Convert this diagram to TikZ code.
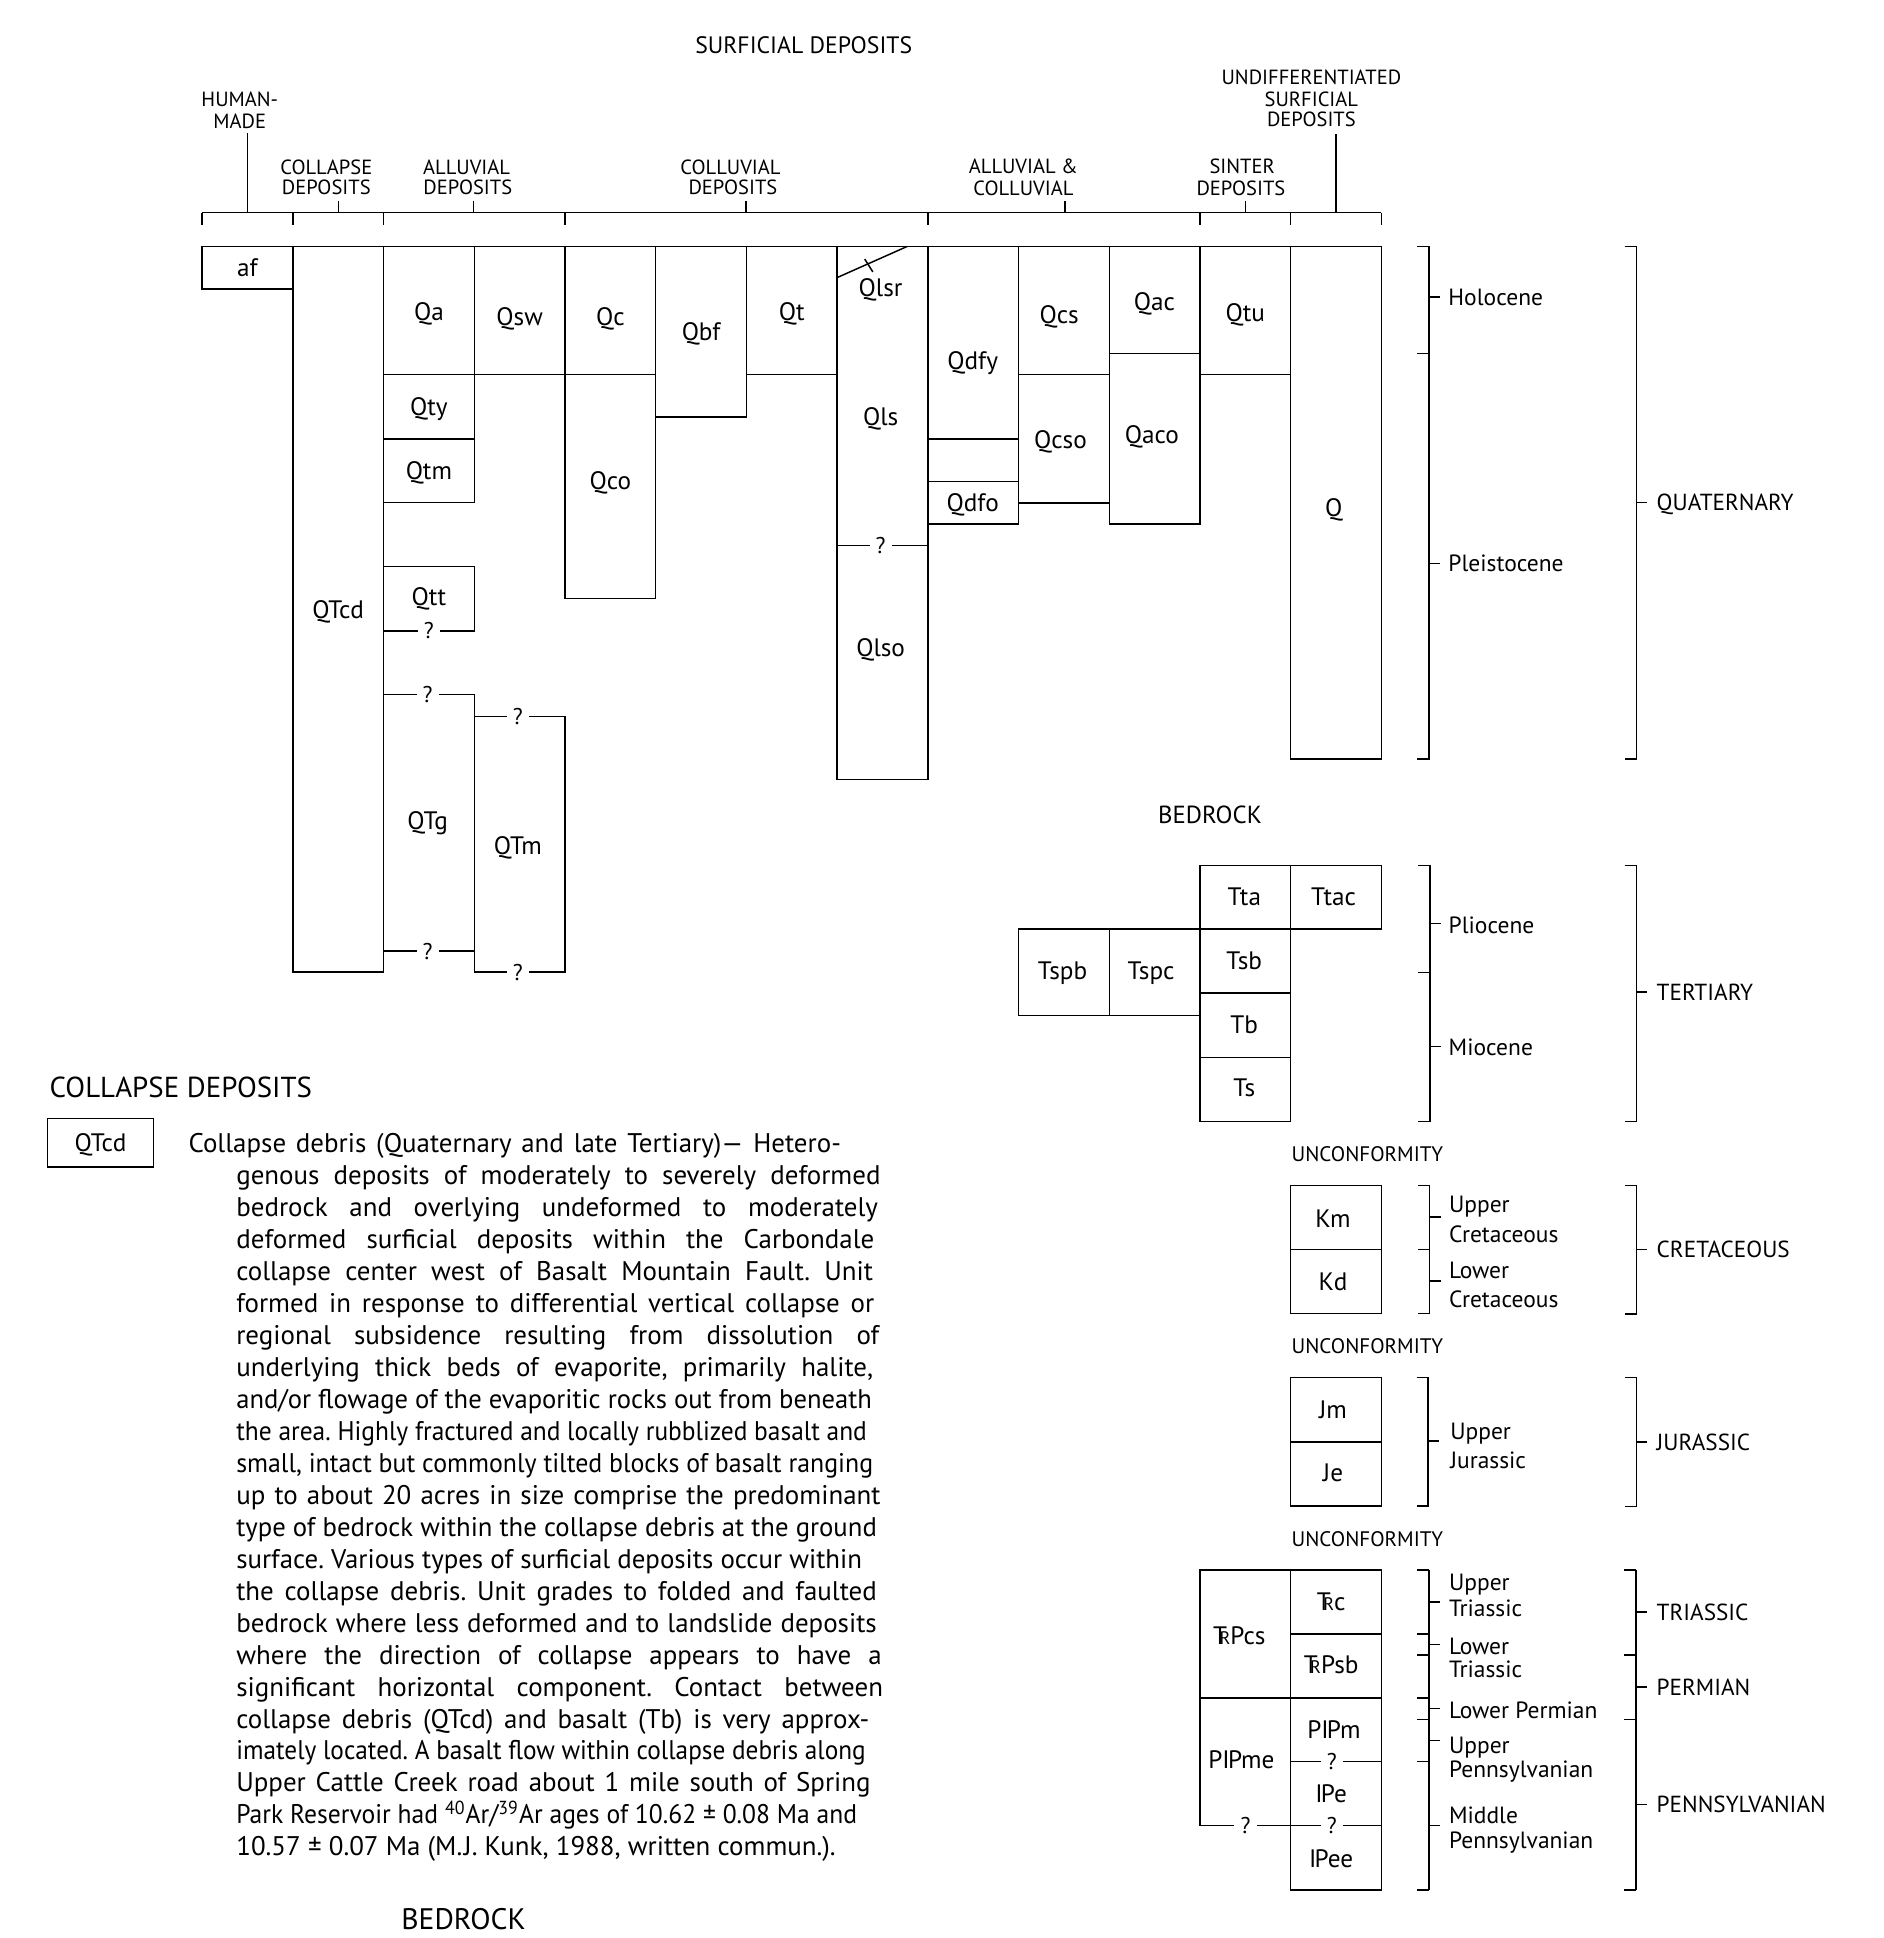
\documentclass[tikz,border=0pt]{standalone}
\usepackage{fontspec}
\setmainfont{PT Sans}
\usepackage{graphicx}
\frenchspacing
\newsavebox\jlbox
\newcommand\jline[2]{\sbox\jlbox{#2}\ifdim\wd\jlbox>#1\relax\resizebox{#1}{\height}{\usebox\jlbox}\else\makebox[#1][s]{#2}\fi}
\newcommand\TRs{T\kern-0.3em\scalebox{0.72}{R}}
\newcommand\PNs{I\kern-0.07em P}
\tikzset{
  ln/.style={line width=0.6pt},
  lbl/.style={inner sep=0pt, text height=7.1pt, text depth=0pt, font=\fontsize{10.2}{12}\selectfont},
  hdr/.style={inner sep=0pt, text height=5.9pt, text depth=0pt, font=\fontsize{8.3}{10}\selectfont},
  ttl/.style={inner sep=0pt, text height=6.8pt, text depth=0pt, font=\fontsize{9.6}{11}\selectfont},
  stg/.style={inner sep=0pt, anchor=west, text height=6.7pt, text depth=0pt, font=\fontsize{9.5}{11}\selectfont},
  per/.style={inner sep=0pt, anchor=west, text height=6.6pt, text depth=0pt, font=\fontsize{9.4}{11}\selectfont},
  unc/.style={inner sep=0pt, anchor=west, text height=6pt, text depth=0pt, font=\fontsize{8.5}{10}\selectfont},
  qm/.style={inner ysep=0.5pt, inner xsep=2.5pt, fill=white, text height=6.5pt, text depth=0pt, font=\fontsize{9.2}{10}\selectfont},
  para/.style={inner sep=0pt, anchor=west, text height=7.6pt, text depth=0pt, font=\fontsize{10.9}{13}\selectfont},
  bigt/.style={inner sep=0pt, text height=8.2pt, text depth=0pt, font=\fontsize{11.7}{13}\selectfont},
}
\newcommand\bx[4]{\draw[ln] (#1,#2) rectangle (#3,#4);}
% bracket: x, top, bottom, tick y
\newcommand\brk[4]{\draw[ln] (#1-9.4,#2) -- (#1,#2) -- (#1,#3) -- (#1-9.4,#3); \draw[ln] (#1,#4) -- (#1+8.8,#4);}
\newcommand\stub[2]{\draw[ln] (#1-9.4,#2) -- (#1,#2);}
\newcommand\tick[2]{\draw[ln] (#1,#2) -- (#1+8.8,#2);}
\begin{document}
\begin{tikzpicture}[x=0.5pt,y=-0.5pt]
\fill[white] (0,0) rectangle (1524,1568);
\useasboundingbox (0,0) rectangle (1524,1568);

% ---------- header ----------
\node[ttl] (surf) at (650.3,36.4) {SURFICIAL DEPOSITS};
\node[hdr] (hm1) at (194,80) {HUMAN-};
\node[hdr] (hm2) at (194,98) {MADE};
\node[hdr] (cd1) at (264,135) {COLLAPSE};
\node[hdr] (cd2) at (264,151.5) {DEPOSITS};
\node[hdr] (ad1) at (377.5,135) {ALLUVIAL};
\node[hdr] (ad2) at (378.5,151.5) {DEPOSITS};
\node[hdr] (cl1) at (591,135) {COLLUVIAL};
\node[hdr] (cl2) at (593,151.5) {DEPOSITS};
\node[hdr] (ac1) at (828,134.5) {ALLUVIAL \&};
\node[hdr] (ac2) at (828,152) {COLLUVIAL};
\node[hdr] (si1) at (1005,134.5) {SINTER};
\node[hdr] (si2) at (1004,152) {DEPOSITS};
\node[hdr] (ud1) at (1061,62.6) {UNDIFFERENTIATED};
\node[hdr] (ud2) at (1061,80) {SURFICIAL};
\node[hdr] (ud3) at (1061,96.5) {DEPOSITS};

\draw[ln] (163.5,172) -- (1117.7,172);
\foreach \x in {163.5,236.9,310.3,457.1,750.7,970.9,1044.3,1117.7} {\draw[ln] (\x,172) -- (\x,182);}
\foreach \x in {274,383.2,603.5,861.5,1007.6} {\draw[ln] (\x,162.7) -- (\x,172);}
\draw[ln] (200.4,108) -- (200.4,172);
\draw[ln] (1081.1,108.5) -- (1081.1,172);

% ---------- surficial units ----------
\bx{163.5}{199.4}{236.9}{233.8}
\node[lbl] (af) at (200.2,217) {af};
\bx{236.9}{199.4}{310.3}{786.4}
\node[lbl] (QTcd) at (273.6,493) {QTcd};
\bx{310.3}{199.4}{383.7}{303.2}
\node[lbl] (Qa) at (347,252) {Qa};
\bx{383.7}{199.4}{457.1}{303.2}
\node[lbl] (Qsw) at (420.4,256) {Qsw};
\bx{457.1}{199.4}{530.5}{303.2}
\node[lbl] (Qc) at (493.8,256) {Qc};
\bx{530.5}{199.4}{603.9}{337.3}
\node[lbl] (Qbf) at (567.2,268) {Qbf};
\bx{603.9}{199.4}{677.3}{303.2}
\node[lbl] (Qt) at (640.6,252) {Qt};
\bx{310.3}{303.2}{383.7}{355}
\node[lbl] (Qty) at (347,329) {Qty};
\bx{310.3}{355}{383.7}{406.7}
\node[lbl] (Qtm) at (347,381) {Qtm};
\bx{457.1}{303.2}{530.5}{484.1}
\node[lbl] (Qco) at (493.8,389) {Qco};
% Qtt
\draw[ln] (310.3,510.4) -- (310.3,458.4) -- (383.7,458.4) -- (383.7,510.4) -- cycle;
\node[lbl] (Qtt) at (347,483) {Qtt};
% QTg and QTm
\draw[ln] (310.3,562) -- (383.7,562) -- (383.7,786.4);
\draw[ln] (310.3,769.4) -- (383.7,769.4);
\draw[ln] (383.7,579.5) -- (457.1,579.5) -- (457.1,786.4) -- (383.7,786.4);
\node[lbl] (QTg) at (346,663.7) {QTg};
\node[lbl] (QTm) at (419,684.4) {QTm};
% Ql column
\bx{677.3}{199.4}{750.7}{630.7}
\draw[ln] (677.3,224.6) -- (734,199.4);
\draw[ln] (699.6,209.6) -- (706.2,220);
\draw[ln] (677.3,441.4) -- (750.7,441.4);
\node[lbl] (Qlsr) at (712.5,233) {Qlsr};
\node[lbl] (Qls) at (712.5,337) {Qls};
\node[lbl] (Qlso) at (712.5,524) {Qlso};
% alluvial and colluvial
\bx{750.7}{199.4}{824.1}{355}
\node[lbl] (Qdfy) at (787,292) {Qdfy};
\bx{750.7}{355}{824.1}{389.6}
\bx{750.7}{389.6}{824.1}{424}
\node[lbl] (Qdfo) at (787,407) {Qdfo};
\bx{824.1}{199.4}{897.5}{303.2}
\node[lbl] (Qcs) at (857,255) {Qcs};
\bx{824.1}{303.2}{897.5}{407}
\node[lbl] (Qcso) at (858,356) {Qcso};
\bx{897.5}{199.4}{970.9}{285.9}
\node[lbl] (Qac) at (934,244) {Qac};
\bx{897.5}{285.9}{970.9}{424}
\node[lbl] (Qaco) at (932,352) {Qaco};
\bx{970.9}{199.4}{1044.3}{303.2}
\node[lbl] (Qtu) at (1007.6,253) {Qtu};
\bx{1044.3}{199.4}{1117.7}{614}
\node[lbl] (Q) at (1079,411) {Q};

% question marks
\node[qm] (q1) at (347,510.4) {?};
\node[qm] (q2) at (346,562) {?};
\node[qm] (q3) at (346,769.4) {?};
\node[qm] (q4) at (419,579.5) {?};
\node[qm] (q5) at (419,786.4) {?};
\node[qm] (q6) at (712.5,441.4) {?};

% quaternary brackets
\brk{1156.2}{199.6}{285.9}{240.4}
\brk{1156.2}{285.9}{614}{455.8}
\node[stg] (holo) at (1171.5,240.4) {Holocene};
\node[stg] (plei) at (1171.5,456) {Pleistocene};
\brk{1323.9}{199.6}{614}{406.5}
\node[per] (quat) at (1340,406.5) {QUATERNARY};

% ---------- bedrock: tertiary ----------
\node[lbl, font=\fontsize{10}{12}\selectfont, text height=7pt] (bedr) at (979,659.6) {BEDROCK};
\bx{970.9}{700.3}{1044.3}{751.8}
\node[lbl] (Tta) at (1006.7,725.7) {Tta};
\bx{1044.3}{700.3}{1117.7}{751.8}
\node[lbl] (Ttac) at (1079,725.7) {Ttac};
\bx{824.1}{751.8}{897.5}{821.7}
\node[lbl] (Tspb) at (859.7,785) {Tspb};
\bx{897.5}{751.8}{970.9}{821.7}
\node[lbl] (Tspc) at (931.3,785) {Tspc};
\bx{970.9}{751.8}{1044.3}{803.4}
\node[lbl] (Tsb) at (1006.7,777) {Tsb};
\bx{970.9}{803.4}{1044.3}{855.4}
\node[lbl] (Tb) at (1006.7,829) {Tb};
\bx{970.9}{855.4}{1044.3}{907.3}
\node[lbl] (Ts) at (1006.7,880.3) {Ts};
\brk{1156.8}{700.3}{786.7}{747.3}
\brk{1156.8}{786.7}{907.3}{846.6}
\node[stg] (plio) at (1171.7,748.5) {Pliocene};
\node[stg] (mioc) at (1171.7,847) {Miocene};
\brk{1323.9}{700.3}{907.3}{802.6}
\node[per] (tert) at (1340,802.6) {TERTIARY};

% ---------- cretaceous ----------
\node[unc] (unc1) at (1044.6,934) {UNCONFORMITY};
\bx{1044.3}{959.3}{1117.7}{1010.9}
\node[lbl] (Km) at (1078.5,986) {Km};
\bx{1044.3}{1010.9}{1117.7}{1062.7}
\node[lbl] (Kd) at (1078.5,1037.3) {Kd};
\brk{1156.7}{959.3}{1010.9}{984.7}
\brk{1156.7}{1010.9}{1062.7}{1036.5}
\node[stg] (uk1) at (1172,974.4) {Upper};
\node[stg] (uk2) at (1172,998.2) {Cretaceous};
\node[stg] (lk1) at (1172,1027.3) {Lower};
\node[stg] (lk2) at (1172,1050.8) {Cretaceous};
\brk{1324}{959.3}{1063}{1010.9}
\node[per] (cret) at (1340,1010.9) {CRETACEOUS};

% ---------- jurassic ----------
\node[unc] (unc2) at (1044.6,1089.4) {UNCONFORMITY};
\bx{1044.3}{1114.7}{1117.7}{1166.8}
\node[lbl] (Jm) at (1078.5,1140.9) {Jm};
\bx{1044.3}{1166.8}{1117.7}{1218.4}
\node[lbl] (Je) at (1078.5,1191.6) {Je};
\brk{1155.5}{1114.7}{1218.4}{1166}
\node[stg] (uj1) at (1173,1158) {Upper};
\node[stg] (uj2) at (1173,1181.6) {Jurassic};
\brk{1324}{1114.7}{1219}{1166.8}
\node[per] (jura) at (1340,1166.8) {JURASSIC};

% ---------- triassic to pennsylvanian ----------
\node[unc] (unc3) at (1044.6,1245) {UNCONFORMITY};
\bx{970.9}{1270.1}{1044.3}{1373.7}
\node[lbl] (TRPcs) at (1002.7,1323.3) {\TRs Pcs};
\draw[ln] (970.9,1373.7) -- (970.9,1477.1) -- (1117.7,1477.1);
\draw[ln] (1044.3,1373.7) -- (1044.3,1529) -- (1117.7,1529) -- (1117.7,1373.7);
\node[lbl] (PPme) at (1004.4,1423.6) {P\PNs me};
\bx{1044.3}{1270.1}{1117.7}{1321.9}
\node[lbl] (Trc) at (1077,1296.3) {\TRs c};
\bx{1044.3}{1321.9}{1117.7}{1373.7}
\node[lbl] (TRPsb) at (1077,1346.7) {\TRs Psb};
\draw[ln] (1044.3,1425.2) -- (1117.7,1425.2);
\node[lbl] (PPm) at (1079.3,1399.6) {P\PNs m};
\node[lbl] (Pe) at (1077,1451.4) {\PNs e};
\node[lbl] (Pee) at (1077,1503.5) {\PNs ee};
\node[qm] (q7) at (1077.6,1425.2) {?};
\node[qm] (q8) at (1007.8,1477.1) {?};
\node[qm] (q9) at (1077.6,1477.1) {?};
% small brackets
\draw[ln] (1156,1270.1) -- (1156,1529);
\foreach \y in {1270.1,1321.9,1339.2,1373.7,1391.2,1425.2,1529} {\stub{1156}{\y}}
\foreach \y in {1296,1330.5,1382.5,1408.2,1477} {\tick{1156}{\y}}
\node[stg] (ut1) at (1172,1280) {Upper};
\node[stg] (ut2) at (1172,1300.9) {Triassic};
\node[stg] (lt1) at (1172,1332.2) {Lower};
\node[stg] (lt2) at (1172,1350.8) {Triassic};
\node[stg] (lp1) at (1172,1383.4) {Lower Permian};
\node[stg] (up1) at (1172,1411.7) {Upper};
\node[stg] (up2) at (1172,1431.2) {Pennsylvanian};
\node[stg] (mp1) at (1172,1469) {Middle};
\node[stg] (mp2) at (1172,1488.7) {Pennsylvanian};
% big brackets
\draw[ln] (1323.6,1270.1) -- (1323.6,1529);
\foreach \y in {1270.1,1339.2,1391.2,1529} {\stub{1323.6}{\y}}
\foreach \y in {1304.4,1365,1460} {\tick{1323.6}{\y}}
\node[per] (tria) at (1340,1304.4) {TRIASSIC};
\node[per] (perm) at (1340,1365) {PERMIAN};
\node[per] (penn) at (1340,1460) {PENNSYLVANIAN};

% ---------- description ----------
\node[bigt, anchor=west] (colt) at (39.8,879.5) {COLLAPSE DEPOSITS};
\draw[ln] (38.5,905) rectangle (124.2,944.2);
\node[lbl] (QTcdb) at (81.4,924.6) {QTcd};
\node[para] (p1) at (152.2,924.8) {\jline{263.9pt}{Collapse debris (Quaternary and late Tertiary)— Hetero-}};
\node[para] (p2) at (190.8,950.7) {\jline{260.6pt}{genous deposits of moderately to severely deformed}};
\node[para] (p3) at (190.8,976.5) {\jline{259.6pt}{bedrock and overlying undeformed to moderately}};
\node[para] (p4) at (190.8,1002.4) {\jline{258.1pt}{deformed surficial deposits within the Carbondale}};
\node[para] (p5) at (190.8,1028.3) {\jline{257.6pt}{collapse center west of Basalt Mountain Fault. Unit}};
\node[para] (p6) at (190.8,1054.2) {\jline{258.1pt}{formed in response to differential vertical collapse or}};
\node[para] (p7) at (190.8,1080.0) {\jline{260.1pt}{regional subsidence resulting from dissolution of}};
\node[para] (p8) at (190.8,1105.9) {\jline{257.6pt}{underlying thick beds of evaporite, primarily halite,}};
\node[para] (p9) at (190.8,1131.8) {\jline{257.1pt}{and/or flowage of the evaporitic rocks out from beneath}};
\node[para] (p10) at (190.8,1157.6) {\jline{255.1pt}{the area. Highly fractured and locally rubblized basalt and}};
\node[para] (p11) at (190.8,1183.5) {\jline{257.6pt}{small, intact but commonly tilted blocks of basalt ranging}};
\node[para] (p12) at (190.8,1209.4) {\jline{260.6pt}{up to about 20 acres in size comprise the predominant}};
\node[para] (p13) at (190.8,1235.2) {\jline{259.1pt}{type of bedrock within the collapse debris at the ground}};
\node[para] (p14) at (190.8,1261.1) {\jline{253.1pt}{surface. Various types of surficial deposits occur within}};
\node[para] (p15) at (190.8,1287.0) {\jline{259.1pt}{the collapse debris. Unit grades to folded and faulted}};
\node[para] (p16) at (190.8,1312.9) {\jline{259.1pt}{bedrock where less deformed and to landslide deposits}};
\node[para] (p17) at (190.8,1338.7) {\jline{261.1pt}{where the direction of collapse appears to have a}};
\node[para] (p18) at (190.8,1364.6) {\jline{261.6pt}{significant horizontal component. Contact between}};
\node[para] (p19) at (190.8,1390.5) {\jline{256.1pt}{collapse debris (QTcd) and basalt (Tb) is very approx-}};
\node[para] (p20) at (190.8,1416.3) {\jline{254.6pt}{imately located. A basalt flow within collapse debris along}};
\node[para] (p21) at (190.8,1442.2) {\jline{256.6pt}{Upper Cattle Creek road about 1 mile south of Spring}};
\node[para] (p22) at (190.8,1468.1) {\jline{251.1pt}{Park Reservoir had \textsuperscript{40}Ar/\textsuperscript{39}Ar ages of 10.62 ± 0.08 Ma and}};
\node[para] (p23) at (190.8,1494.0) {10.57 ± 0.07 Ma (M.\kern0.06em J. Kunk, 1988, written commun.).};
\node[bigt, font=\fontsize{12}{14}\selectfont, text height=8.4pt] (bedr2) at (375,1553) {BEDROCK};
\end{tikzpicture}
\end{document}
